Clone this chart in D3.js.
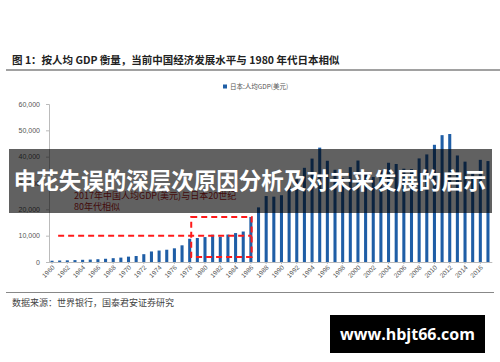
<!DOCTYPE html>
<html>
<head>
<meta charset="utf-8">
<script src="https://cdn.jsdelivr.net/npm/d3@7"></script>
<style>
  body { margin: 0; background: #fff; }
  svg { display: block; font-family: "Noto Sans CJK SC", "Noto Sans", sans-serif; }
</style>
</head>
<body>
<svg id="chart" width="500" height="362"></svg>
<script>
// Japan GDP per capita (current USD), 1960-2017
const years = d3.range(1960, 2018);
const gdpPerCapita = [
  479, 563, 634, 718, 835, 919, 1059, 1229, 1451, 1669,
  2037, 2272, 2967, 3997, 4354, 4659, 5198, 6335, 8821, 9105,
  9465, 10361, 9578, 10425, 10985, 11577, 17113, 20745, 25051, 24813,
  25359, 28925, 31465, 35766, 39269, 43440, 38437, 35022, 31903, 36027,
  38532, 33846, 32289, 34808, 37689, 37218, 35434, 35275, 39339, 40855,
  44508, 48168, 48603, 40454, 38109, 34524, 38794, 38332
];
const yTicks = [0, 10000, 20000, 30000, 40000, 50000, 60000];
const xTickYears = years.filter(y => y % 2 === 0);

// annotation: the 1980s box and the reference level
const refLevel = 10000;
const refFrom = 1960.8, refTo = 1986.1;
const boxYears = [1978.2, 1986.1];
const boxValues = [1900, 17100];

const titleText = "图 1：按人均 GDP 衡量，当前中国经济发展水平与 1980 年代日本相似";
const legendText = "日本:人均GDP(美元)";
const noteLines = ["2017年中国人均GDP(美元)与日本20世纪", "80年代相似"];
const sourceText = "数据来源：世界银行，国泰君安证券研究";
const bannerText = "申花失误的深层次原因分析及对未来发展的启示";
const siteText = "www.hbjt66.com";

const SVG = d3.select("#chart");
const barColor = "#1f5ea6";

// title + rule
SVG.append("text")
  .attr("x", 12).attr("y", 64)
  .attr("font-size", 10.5).attr("font-weight", "bold").attr("fill", "#222")
  .text(titleText);
SVG.append("line")
  .attr("x1", 6).attr("x2", 500).attr("y1", 70).attr("y2", 70)
  .attr("stroke", "#444").attr("stroke-width", 1.2);

// scales
const x = d3.scaleBand().domain(years).range([48.2, 491.8]).paddingInner(0.6).paddingOuter(0.3);
const xYear = d3.scaleLinear().domain([1960, 2017])
  .range([x(1960) + x.bandwidth() / 2, x(2017) + x.bandwidth() / 2]);
const y = d3.scaleLinear().domain([0, 60000]).range([262, 104]);

// y axis
const yAxis = SVG.append("g").attr("transform", "translate(49,0)")
  .call(d3.axisLeft(y).tickValues(yTicks).tickSize(3).tickFormat(d3.format(",")));
yAxis.select(".domain").attr("stroke", "#bbb");
yAxis.selectAll(".tick line").attr("stroke", "#bbb");
yAxis.selectAll(".tick text").attr("font-size", 7).attr("fill", "#555").attr("x", -9);

// x axis
const xAxis = SVG.append("g").attr("transform", "translate(0,262)")
  .call(d3.axisBottom(x).tickValues(xTickYears).tickSize(2).tickSizeOuter(0));
xAxis.select(".domain").attr("stroke", "#bbb");
xAxis.selectAll(".tick line").attr("stroke", "#bbb");
xAxis.selectAll(".tick text")
  .attr("font-size", 6.5).attr("fill", "#555")
  .attr("text-anchor", "end")
  .attr("dy", 0).attr("y", 6).attr("x", 3)
  .attr("transform", "rotate(-45, 3, 6)");

// bars
SVG.append("g").selectAll("rect")
  .data(years)
  .enter().append("rect")
  .attr("x", d => x(d))
  .attr("width", x.bandwidth())
  .attr("y", (d, i) => y(gdpPerCapita[i]))
  .attr("height", (d, i) => y(0) - y(gdpPerCapita[i]))
  .attr("fill", barColor);

// legend
SVG.append("rect").attr("x", 223).attr("y", 84.5).attr("width", 4).attr("height", 4).attr("fill", barColor);
SVG.append("text").attr("x", 230).attr("y", 89)
  .attr("font-size", 6.5).attr("fill", "#555").text(legendText);

// annotation
const red = "#ff1a1a";
SVG.append("line")
  .attr("x1", xYear(refFrom)).attr("x2", xYear(refTo))
  .attr("y1", y(refLevel)).attr("y2", y(refLevel))
  .attr("stroke", red).attr("stroke-width", 2).attr("stroke-dasharray", "6,4");
SVG.append("rect")
  .attr("x", xYear(boxYears[0])).attr("y", y(boxValues[1]))
  .attr("width", xYear(boxYears[1]) - xYear(boxYears[0]))
  .attr("height", y(boxValues[0]) - y(boxValues[1]))
  .attr("fill", "none")
  .attr("stroke", red).attr("stroke-width", 2).attr("stroke-dasharray", "6,4");
noteLines.forEach((t, i) => {
  SVG.append("text").attr("x", 74).attr("y", 198.5 + i * 11)
    .attr("font-size", 9).attr("fill", "#b02020").text(t);
});

// source + rule
SVG.append("line")
  .attr("x1", 6).attr("x2", 494).attr("y1", 292.5).attr("y2", 292.5)
  .attr("stroke", "#888").attr("stroke-width", 1);
SVG.append("text").attr("x", 12).attr("y", 306)
  .attr("font-size", 9).attr("fill", "#444").text(sourceText);

// overlay banner
SVG.append("rect").attr("x", 9).attr("y", 149).attr("width", 483).attr("height", 64)
  .attr("fill", "#000").attr("opacity", 0.62);
SVG.append("text").attr("x", 250).attr("y", 189)
  .attr("text-anchor", "middle")
  .attr("font-size", 22.5).attr("font-weight", "bold").attr("fill", "#fff")
  .text(bannerText);

// site badge
SVG.append("rect").attr("x", 330).attr("y", 315).attr("width", 155).attr("height", 38).attr("fill", "#000");
SVG.append("text").attr("x", 407.5).attr("y", 340)
  .attr("text-anchor", "middle")
  .attr("font-family", "'Open Sans', 'DejaVu Sans', sans-serif")
  .attr("font-size", 16).attr("font-weight", "bold").attr("fill", "#fff")
  .text(siteText);
</script>
</body>
</html>
